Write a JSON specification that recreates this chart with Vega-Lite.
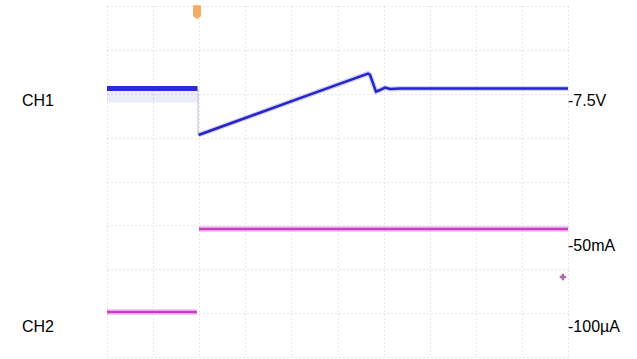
{
  "$schema": "https://vega.github.io/schema/vega-lite/v6.json",
  "width": 461,
  "height": 351,
  "autosize": {"type": "none"},
  "padding": {"left": 107, "top": 6, "right": 69, "bottom": 2},
  "background": "white",
  "config": {"view": {"stroke": null}, "font": "Liberation Sans"},
  "datasets": {
    "ch1_pre": [
      {"t": 0, "v": 6.12, "lo": 5.8},
      {"t": 1.963, "v": 6.12, "lo": 5.8}
    ],
    "ch1_edge": [
      {"t": 1.975, "v": 6.12},
      {"t": 1.975, "v": 5.08}
    ],
    "ch1_post": [
      {"t": 1.985, "v": 5.06},
      {"t": 4.187, "v": 5.90},
      {"t": 5.662, "v": 6.46},
      {"t": 5.705, "v": 6.43},
      {"t": 5.835, "v": 6.05},
      {"t": 5.922, "v": 6.085},
      {"t": 6.03, "v": 6.14},
      {"t": 6.139, "v": 6.11},
      {"t": 6.356, "v": 6.12},
      {"t": 10, "v": 6.12}
    ],
    "ch2": [
      {"seg": "a", "t": 0, "v": 1.026},
      {"seg": "a", "t": 1.95, "v": 1.026},
      {"seg": "b", "t": 1.995, "v": 2.917},
      {"seg": "b", "t": 10, "v": 2.917}
    ],
    "labels": [
      {"t": -1.844, "v": 5.835, "text": "CH1"},
      {"t": -1.844, "v": 0.684, "text": "CH2"},
      {"t": 10.0, "v": 5.835, "text": "-7.5V"},
      {"t": 10.0, "v": 2.53, "text": "-50mA"},
      {"t": 10.0, "v": 0.684, "text": "-100µA"}
    ],
    "trig": [{"t": 1.952, "v": 7.86}],
    "plus": [{"t": 9.89, "v": 1.823}]
  },
  "layer": [
    {
      "data": {"name": "ch1_pre"},
      "mark": {"type": "area", "color": "#7070e8", "opacity": 0.14},
      "encoding": {
        "x": {"field": "t", "type": "quantitative", "scale": {"domain": [0, 10]},
          "axis": {"values": [0,1,2,3,4,5,6,7,8,9,10], "grid": true, "gridDash": [1, 3], "gridColor": "#b0b0b0", "gridOpacity": 0.6, "labels": false, "ticks": false, "domain": false, "title": null}},
        "y": {"field": "lo", "type": "quantitative", "scale": {"domain": [0, 8]},
          "axis": {"values": [0,1,2,3,4,5,6,7,8], "grid": true, "gridDash": [1, 3], "gridColor": "#b0b0b0", "gridOpacity": 0.6, "labels": false, "ticks": false, "domain": false, "title": null}},
        "y2": {"field": "v"}
      }
    },
    {
      "data": {"name": "ch1_pre"},
      "mark": {"type": "line", "color": "#2a2ad8", "strokeWidth": 5},
      "encoding": {
        "x": {"field": "t", "type": "quantitative"},
        "y": {"field": "v", "type": "quantitative"}
      }
    },
    {
      "data": {"name": "ch1_edge"},
      "mark": {"type": "line", "color": "#8888bb", "strokeWidth": 1, "opacity": 0.6},
      "encoding": {
        "x": {"field": "t", "type": "quantitative"},
        "y": {"field": "v", "type": "quantitative"}
      }
    },
    {
      "data": {"name": "ch1_post"},
      "mark": {"type": "line", "color": "#6060e8", "strokeWidth": 5, "opacity": 0.3},
      "encoding": {
        "x": {"field": "t", "type": "quantitative"},
        "y": {"field": "v", "type": "quantitative"}
      }
    },
    {
      "data": {"name": "ch1_post"},
      "mark": {"type": "line", "color": "#2424c8", "strokeWidth": 2.5},
      "encoding": {
        "x": {"field": "t", "type": "quantitative"},
        "y": {"field": "v", "type": "quantitative"}
      }
    },
    {
      "data": {"name": "ch2"},
      "mark": {"type": "line", "color": "#f0a0f0", "strokeWidth": 6, "opacity": 0.6},
      "encoding": {
        "x": {"field": "t", "type": "quantitative"},
        "y": {"field": "v", "type": "quantitative"},
        "detail": {"field": "seg"}
      }
    },
    {
      "data": {"name": "ch2"},
      "mark": {"type": "line", "color": "#c63ec6", "strokeWidth": 2.5},
      "encoding": {
        "x": {"field": "t", "type": "quantitative"},
        "y": {"field": "v", "type": "quantitative"},
        "detail": {"field": "seg"}
      }
    },
    {
      "data": {"name": "trig"},
      "mark": {"type": "point", "shape": "M-0.57,-1 L0.57,-1 L0.57,0.6 L0,1 L-0.57,0.6 Z", "filled": true, "color": "#f09030", "size": 190, "opacity": 0.75},
      "encoding": {
        "x": {"field": "t", "type": "quantitative"},
        "y": {"field": "v", "type": "quantitative"}
      }
    },
    {
      "data": {"name": "plus"},
      "mark": {"type": "point", "shape": "cross", "filled": true, "color": "#8a3070", "size": 40},
      "encoding": {
        "x": {"field": "t", "type": "quantitative"},
        "y": {"field": "v", "type": "quantitative"}
      }
    },
    {
      "data": {"name": "labels"},
      "mark": {"type": "text", "align": "left", "baseline": "middle", "fontSize": 16, "color": "black"},
      "encoding": {
        "x": {"field": "t", "type": "quantitative"},
        "y": {"field": "v", "type": "quantitative"},
        "text": {"field": "text"}
      }
    }
  ]
}
